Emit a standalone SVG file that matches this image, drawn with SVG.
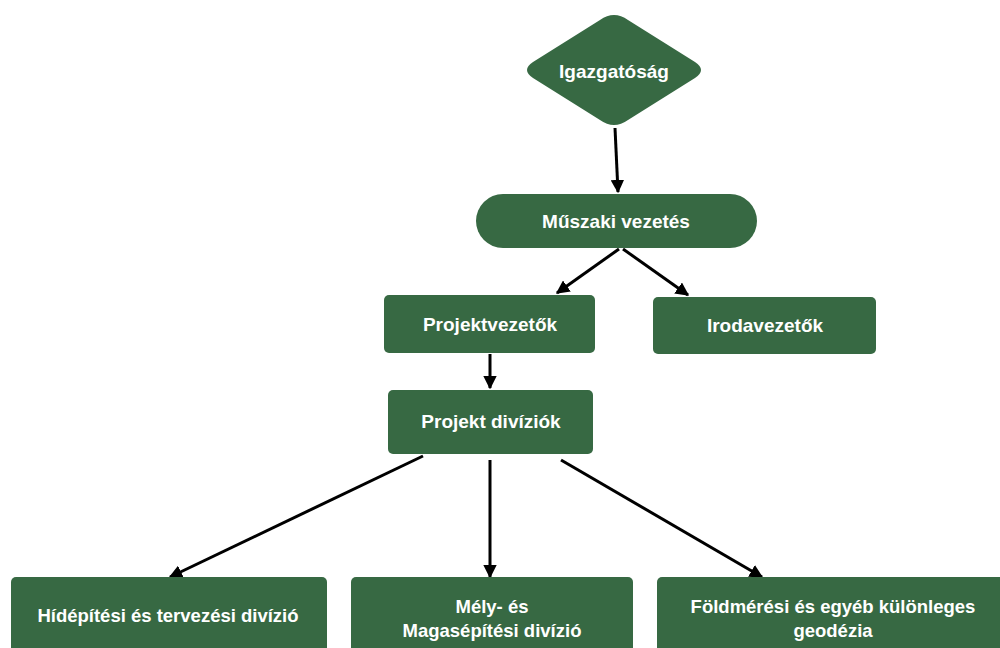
<svg xmlns="http://www.w3.org/2000/svg" width="1000" height="648" viewBox="0 0 1000 648">
<defs>
<marker id="ah" viewBox="0 0 10 10" refX="9" refY="5" markerWidth="4.5" markerHeight="4.5" orient="auto" markerUnits="strokeWidth">
<path d="M0,0 L10,5 L0,10 z" fill="#000"/>
</marker>
<style>
.n{fill:#376943;}
.t{fill:#fff;font-family:"Liberation Sans",Arial,sans-serif;font-weight:bold;text-anchor:middle;dominant-baseline:central;}
.big{font-size:19px;}
.sm{font-size:18.5px;}
.c{stroke:#000;stroke-width:3;fill:none;marker-end:url(#ah);}
</style>
</defs>
<rect width="1000" height="648" fill="#fff"/>
<g id="connectors">
<line class="c" x1="615" y1="128" x2="618" y2="192"/>
<line class="c" x1="619" y1="249" x2="557" y2="293"/>
<line class="c" x1="623" y1="249" x2="688" y2="295"/>
<line class="c" x1="490" y1="354" x2="490" y2="388"/>
<line class="c" x1="423" y1="456" x2="170" y2="577"/>
<line class="c" x1="490" y1="460" x2="490" y2="577"/>
<line class="c" x1="561" y1="460" x2="762" y2="577"/>
</g>
<g id="igazgatosag">
<path class="n" d="M600,20 Q614,10 628,20 L695,62 Q707,70 695,78 L628,120 Q614,130 600,120 L533,78 Q521,70 533,62 Z"/>
<text class="t big" x="614" y="71">Igazgatóság</text>
</g>
<g id="muszaki">
<rect class="n" x="476" y="194" width="281" height="54" rx="27"/>
<text class="t big" x="616" y="221">Műszaki vezetés</text>
</g>
<g id="projektvezetok">
<rect class="n" x="384" y="295" width="211" height="58" rx="5"/>
<text class="t big" x="490" y="324">Projektvezetők</text>
</g>
<g id="irodavezetok">
<rect class="n" x="653" y="297" width="223" height="57" rx="5"/>
<text class="t big" x="765" y="325">Irodavezetők</text>
</g>
<g id="projektdiviziok">
<rect class="n" x="388" y="390" width="205" height="64" rx="5"/>
<text class="t big" x="491" y="421">Projekt divíziók</text>
</g>
<g id="hidepitesi">
<rect class="n" x="11" y="577" width="316" height="80" rx="5"/>
<text class="t sm" x="168" y="615">Hídépítési és tervezési divízió</text>
</g>
<g id="mely">
<rect class="n" x="351" y="577" width="282" height="80" rx="5"/>
<text class="t sm" x="492" y="606">Mély- és</text>
<text class="t sm" x="492" y="630">Magasépítési divízió</text>
</g>
<g id="foldmeresi">
<rect class="n" x="657" y="577" width="350" height="80" rx="5"/>
<text class="t sm" x="833" y="606">Földmérési és egyéb különleges</text>
<text class="t sm" x="833" y="630">geodézia</text>
</g>
</svg>
